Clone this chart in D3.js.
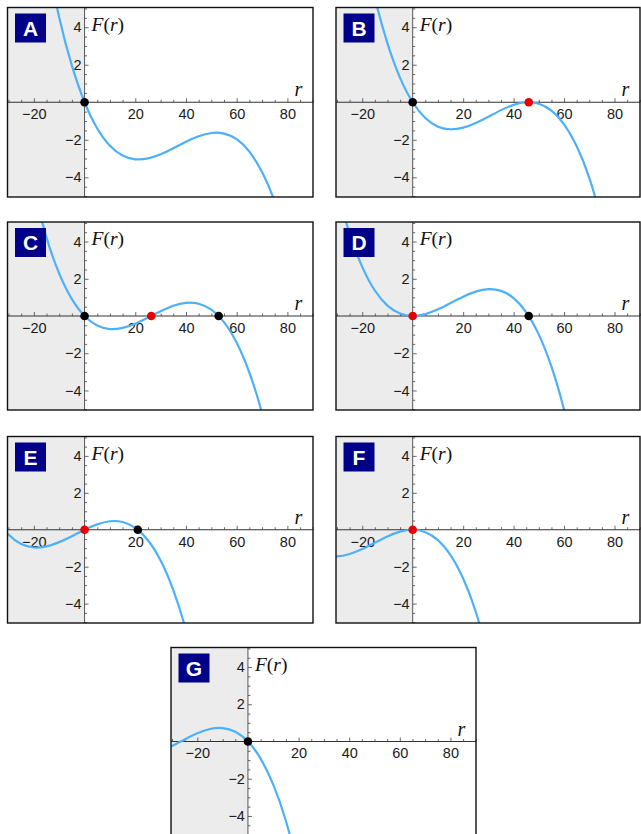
<!DOCTYPE html>
<html>
<head>
<meta charset="utf-8">
<script src="https://cdn.jsdelivr.net/npm/d3@7"></script>
<style>
  html, body { margin: 0; padding: 0; background: #fff; overflow: hidden; }
</style>
</head>
<body>
<div id="chart"></div>
<script>
const rA = [-15, -10, -5, 0, 5, 10, 15, 20, 25, 30, 35, 40, 45, 50, 55, 60, 65, 70, 75, 80];
const fA = [7.78, 4.52, 1.95, 0, -1.40, -2.32, -2.84, -3.04, -2.99, -2.77, -2.45, -2.10, -1.81, -1.64, -1.67, -1.97, -2.63, -3.72, -5.30, -7.46];

const rB = [-20, -15, -10, -5, 0, 5, 10, 15, 20, 25, 30, 35, 40, 45, 50, 55, 60, 65, 70, 75];
const fB = [8.71, 5.58, 3.14, 1.30, 0, -0.84, -1.30, -1.44, -1.35, -1.10, -0.77, -0.42, -0.14, 0, -0.08, -0.45, -1.18, -2.35, -4.03, -6.31];

const rC = [-20, -15, -10, -5, 0, 5, 10, 15, 20, 25, 30, 35, 40, 45, 50, 55, 60, 65, 70, 75];
const fC = [6.75, 4.21, 2.28, 0.91, 0, -0.51, -0.70, -0.64, -0.42, -0.09, 0.25, 0.55, 0.71, 0.66, 0.34, -0.33, -1.44, -3.04, -5.23, -8.07];

const rD = [-35, -30, -25, -20, -15, -10, -5, 0, 5, 10, 15, 20, 25, 30, 35, 40, 45, 50, 55, 60, 65];
const fD = [9.92, 6.84, 4.44, 2.64, 1.37, 0.56, 0.13, 0, 0.10, 0.36, 0.70, 1.04, 1.31, 1.44, 1.35, 0.96, 0.20, -1.00, -2.72, -5.04, -8.03];

const rE = [-35, -30, -25, -20, -15, -10, -5, 0, 5, 10, 15, 20, 25, 30, 35, 40, 45];
const fE = [0.65, -0.26, -0.77, -0.96, -0.90, -0.67, -0.35, 0, 0.29, 0.46, 0.42, 0.10, -0.57, -1.67, -3.27, -5.45, -8.28];

const rF = [-35, -30, -25, -20, -15, -10, -5, 0, 5, 10, 15, 20, 25, 30];
const fF = [-1.35, -1.44, -1.31, -1.04, -0.70, -0.36, -0.10, 0, -0.13, -0.56, -1.37, -2.64, -4.44, -6.84];

const rG = [-35, -30, -25, -20, -15, -10, -5, 0, 5, 10, 15, 20];
const fG = [-0.54, -0.24, 0.11, 0.44, 0.67, 0.72, 0.52, 0, -0.92, -2.32, -4.27, -6.85];

// fixed points: black = stable, red = semi-stable / unstable
const stableA = [0],        unstableA = [];
const stableB = [0],        unstableB = [46];
const stableC = [0, 52.9],  unstableC = [26.3];
const stableD = [46],       unstableD = [0];
const stableE = [21],       unstableE = [0];
const stableF = [],         unstableF = [0];
const stableG = [0],        unstableG = [];

const xTicks = [-20, 20, 40, 60, 80];
const xMinor = [-30, -25, -15, -10, -5, 5, 10, 15, 25, 30, 35, 45, 50, 55, 65, 70, 75, 85, 90];
const yTicks = [-4, -2, 2, 4];
const yMinor = [-5, -4.5, -3.5, -3, -2.5, -1.5, -1, -0.5, 0.5, 1, 1.5, 2.5, 3, 3.5, 4.5, 5];

const panels = [
  { id: 'A', r: rA, f: fA, stable: stableA, unstable: unstableA, left: 7.5, top: 7.5, w: 305.5, h: 189.5 },
  { id: 'B', r: rB, f: fB, stable: stableB, unstable: unstableB, left: 336, top: 7.5, w: 304, h: 189.5 },
  { id: 'C', r: rC, f: fC, stable: stableC, unstable: unstableC, left: 7.5, top: 222, w: 305.5, h: 188 },
  { id: 'D', r: rD, f: fD, stable: stableD, unstable: unstableD, left: 336, top: 222, w: 304, h: 188 },
  { id: 'E', r: rE, f: fE, stable: stableE, unstable: unstableE, left: 7.5, top: 436.5, w: 305.5, h: 186.5 },
  { id: 'F', r: rF, f: fF, stable: stableF, unstable: unstableF, left: 336, top: 436.5, w: 304, h: 186.5 },
  { id: 'G', r: rG, f: fG, stable: stableG, unstable: unstableG, left: 171, top: 647.5, w: 305, h: 188 }
];

const svg = d3
  .select('#chart')
  .append('svg')
  .attr('width', 641)
  .attr('height', 834);

const sans = '"Liberation Sans", Arial, Helvetica, sans-serif';
const serif = '"Liberation Serif", "Times New Roman", serif';

panels.forEach((p) => {
  const g = svg.append('g').attr('transform', `translate(${p.left}, ${p.top})`);

  const x = d3.scaleLinear().domain([-30.4, 90.1]).range([0, p.w]);
  const y = d3.scaleLinear().domain([-5.05, 5.05]).range([p.h, 0]);

  // shaded r < 0 region
  g.append('rect')
    .attr('x', 0)
    .attr('y', 0)
    .attr('width', x(0))
    .attr('height', p.h)
    .attr('fill', '#ececec');

  const clipId = 'clip' + p.id;
  g.append('clipPath')
    .attr('id', clipId)
    .append('rect')
    .attr('width', p.w)
    .attr('height', p.h);

  // axis lines through the origin
  g.append('line')
    .attr('x1', 0).attr('x2', p.w)
    .attr('y1', y(0)).attr('y2', y(0))
    .attr('stroke', '#333').attr('stroke-width', 1);
  g.append('line')
    .attr('x1', x(0)).attr('x2', x(0))
    .attr('y1', 0).attr('y2', p.h)
    .attr('stroke', '#555').attr('stroke-width', 1);

  // x ticks
  g.append('g')
    .attr('transform', `translate(0, ${y(0)})`)
    .call(d3.axisBottom(x).tickValues(xTicks).tickSize(-4).tickPadding(6.5));
  g.append('g')
    .attr('transform', `translate(0, ${y(0)})`)
    .call(d3.axisBottom(x).tickValues(xMinor).tickSize(-2.5).tickFormat(''));

  // y ticks
  g.append('g')
    .attr('transform', `translate(${x(0)}, 0)`)
    .call(d3.axisLeft(y).tickValues(yTicks).tickSize(-4).tickPadding(3));
  g.append('g')
    .attr('transform', `translate(${x(0)}, 0)`)
    .call(d3.axisLeft(y).tickValues(yMinor).tickSize(-2.5).tickFormat(''));

  g.selectAll('.domain').remove();
  g.selectAll('.tick line').attr('stroke', '#444').attr('stroke-width', 0.8);
  g.selectAll('.tick text')
    .attr('fill', '#1a1a1a')
    .style('font-family', sans)
    .style('font-size', '14.5px');

  // curve
  const pts = p.r.map((r, i) => [r, p.f[i]]);
  g.append('path')
    .datum(pts)
    .attr('clip-path', `url(#${clipId})`)
    .attr('fill', 'none')
    .attr('stroke', '#4db0fb')
    .attr('stroke-width', 2.2)
    .attr('d', d3.line().x((d) => x(d[0])).y((d) => y(d[1])).curve(d3.curveNatural));

  // fixed points
  g.selectAll('circle.stable')
    .data(p.stable)
    .enter()
    .append('circle')
    .attr('cx', (d) => x(d))
    .attr('cy', y(0))
    .attr('r', 4.3)
    .attr('fill', '#000');
  g.selectAll('circle.unstable')
    .data(p.unstable)
    .enter()
    .append('circle')
    .attr('cx', (d) => x(d))
    .attr('cy', y(0))
    .attr('r', 4.3)
    .attr('fill', '#e60000');

  // frame
  g.append('rect')
    .attr('width', p.w)
    .attr('height', p.h)
    .attr('fill', 'none')
    .attr('stroke', '#111')
    .attr('stroke-width', 1.4);

  // axis labels
  const fl = g.append('text')
    .attr('x', x(0) + 7)
    .attr('y', 23)
    .style('font-family', serif)
    .style('font-size', '19.5px')
    .attr('fill', '#111');
  fl.append('tspan').style('font-style', 'italic').text('F');
  fl.append('tspan').text('(');
  fl.append('tspan').style('font-style', 'italic').text('r');
  fl.append('tspan').text(')');

  g.append('text')
    .attr('x', p.w - 14.5)
    .attr('y', y(0) - 6)
    .attr('text-anchor', 'middle')
    .style('font-family', serif)
    .style('font-size', '20px')
    .style('font-style', 'italic')
    .attr('fill', '#111')
    .text('r');

  // panel letter
  g.append('rect')
    .attr('x', 7.5)
    .attr('y', 6)
    .attr('width', 31)
    .attr('height', 29)
    .attr('fill', '#000088');
  g.append('text')
    .attr('x', 7.5 + 15.5)
    .attr('y', 6 + 14.5)
    .attr('dy', '0.36em')
    .attr('text-anchor', 'middle')
    .style('font-family', sans)
    .style('font-size', '21px')
    .style('font-weight', 'bold')
    .attr('fill', '#fff')
    .text(p.id);
});
</script>
</body>
</html>
